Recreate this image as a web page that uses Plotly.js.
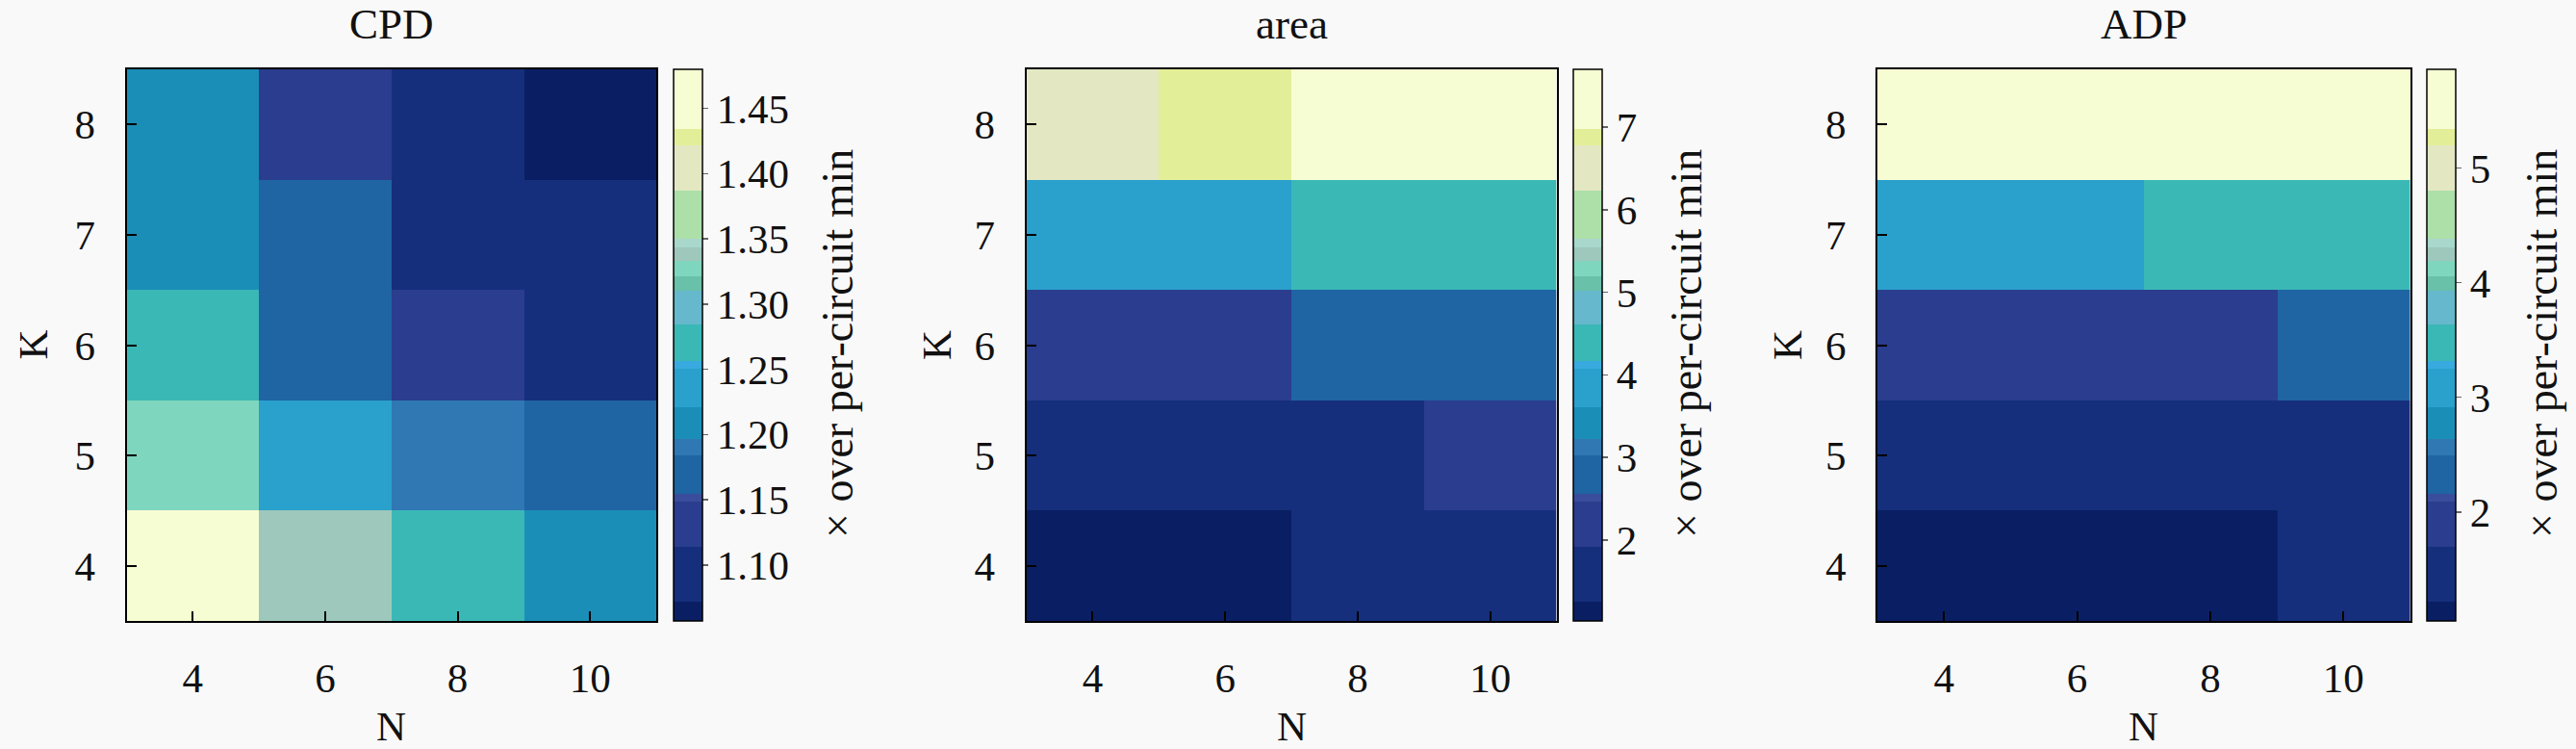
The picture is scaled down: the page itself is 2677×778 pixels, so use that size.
<!DOCTYPE html>
<html>
<head>
<meta charset="utf-8">
<script src="https://cdn.plot.ly/plotly-3.0.1.min.js"></script>
<style>html,body{margin:0;padding:0;background:#f9f9f9;}</style>
</head>
<body>
<div id="chart" style="width:2677px;height:778px;"></div>
<script>
// ---- data ----
const N = [4, 6, 8, 10];
const K = [4, 5, 6, 7, 8];
const panelTitles = ["CPD", "area", "ADP"];
// rows are K = 4..8, columns N = 4..10
const cpd = [
  [1.480, 1.338, 1.270, 1.207],
  [1.327, 1.235, 1.190, 1.165],
  [1.271, 1.170, 1.128, 1.100],
  [1.207, 1.168, 1.095, 1.090],
  [1.209, 1.131, 1.093, 1.057]
];
const area = [
  [1.02, 1.08, 1.55, 1.55],
  [1.57, 1.57, 1.57, 2.15],
  [2.17, 2.17, 2.78, 2.75],
  [3.80, 3.80, 4.35, 4.35],
  [6.49, 6.88, 7.70, 7.65]
];
const adp = [
  [1.05, 1.06, 1.08, 1.45],
  [1.46, 1.46, 1.46, 1.46],
  [1.89, 1.89, 1.89, 2.32],
  [3.07, 3.07, 3.46, 3.46],
  [5.80, 5.83, 5.86, 5.85]
];
const cbTitle = "× over per-circuit min";

// ---- style ----
const W = 2677, H = 778;
const bandStops = [0,0.035,0.134,0.216,0.230,0.301,0.329,0.387,0.457,0.471,0.538,0.598,0.624,0.652,0.678,0.692,0.780,0.863,0.891,1];
const bandColors = ["#0a1f63","#162f7c","#2a3d8e","#3a4d9c","#1f64a3","#2f78b4","#1b8eb8","#2aa0cc","#38aadf","#3ab8b6",
                    "#66b8cc","#68c1a8","#7fd6be","#9ec8bb","#a8d8cc","#ade0a8","#e3e8c2","#e3ee98","#f7fdd2"];
const colorscale = [];
for (let i = 0; i < bandColors.length; i++) {
  colorscale.push([bandStops[i], bandColors[i]]);
  colorscale.push([bandStops[i+1], bandColors[i]]);
}
const FONT = "Liberation Serif";
const FS = 43;
const plotTop = 72, plotBot = 645;
const panels = [
  {x0: 131.5, x1: 682, cb: 700, klab: 34, cbt: 870, dtick: 0.05, fmt: ".2f"},
  {x0: 1066.5, x1: 1617.6, cb: 1635, klab: 973.5, cbt: 1752, dtick: 1, fmt: "d"},
  {x0: 1951, x1: 2504.5, cb: 2521.7, klab: 1857.5, cbt: 2641, dtick: 1, fmt: "d"}
];
const datasets = [cpd, area, adp];

const traces = [];
const layout = {
  width: W, height: H,
  margin: {l: 0, r: 0, t: 0, b: 0},
  paper_bgcolor: "#f9f9f9", plot_bgcolor: "#f9f9f9",
  font: {family: FONT, size: FS, color: "#111"},
  showlegend: false,
  annotations: []
};
const ydom = [1 - plotBot / H, 1 - plotTop / H];

panels.forEach((p, i) => {
  const s = i === 0 ? "" : String(i + 1);
  traces.push({
    type: "heatmap",
    x: N, y: K, z: datasets[i],
    xaxis: "x" + s, yaxis: "y" + s,
    colorscale: colorscale,
    zsmooth: false,
    hoverinfo: "skip",
    colorbar: {
      x: p.cb / W, xanchor: "left", xpad: 0, ypad: 0,
      y: ydom[0], yanchor: "bottom",
      len: ydom[1] - ydom[0], lenmode: "fraction",
      thickness: 30, thicknessmode: "pixels",
      outlinecolor: "#000", outlinewidth: 1.5,
      ticks: "outside", ticklen: 6, tickwidth: 1.5, tickcolor: "#666",
      dtick: p.dtick, tick0: 0, tickformat: p.fmt,
      tickfont: {family: FONT, size: FS, color: "#111"}
    }
  });
  const xa = {
    domain: [p.x0 / W, p.x1 / W], range: [3, 11], anchor: "y" + s,
    tickvals: N, ticktext: N.map(String),
    ticks: "inside", ticklen: 10, tickwidth: 2, tickcolor: "#000",
    showline: true, mirror: true, linecolor: "#000", linewidth: 2,
    showgrid: false, zeroline: false, ticklabelstandoff: 20,
    tickfont: {family: FONT, size: FS, color: "#111"}
  };
  const ya = {
    domain: ydom, range: [3.5, 8.5], anchor: "x" + s,
    tickvals: K, ticktext: K.map(String),
    ticks: "inside", ticklen: 10, tickwidth: 2, tickcolor: "#000",
    showline: true, mirror: true, linecolor: "#000", linewidth: 2,
    showgrid: false, zeroline: false, ticklabelstandoff: 22,
    tickfont: {family: FONT, size: FS, color: "#111"}
  };
  layout["xaxis" + s] = xa;
  layout["yaxis" + s] = ya;
  const cx = (p.x0 + p.x1) / 2 / W;
  layout.annotations.push(
    {text: panelTitles[i], x: cx, y: 1 - 25 / H, xref: "paper", yref: "paper", xanchor: "center", yanchor: "middle", showarrow: false, font: {family: FONT, size: FS + 2, color: "#111"}},
    {text: "N", x: cx, y: 1 - 754 / H, xref: "paper", yref: "paper", xanchor: "center", yanchor: "middle", showarrow: false, font: {family: FONT, size: FS, color: "#111"}},
    {text: "K", x: p.klab / W, y: (ydom[0] + ydom[1]) / 2, xref: "paper", yref: "paper", xanchor: "center", yanchor: "middle", textangle: -90, showarrow: false, font: {family: FONT, size: FS, color: "#111"}},
    {text: cbTitle, x: p.cbt / W, y: 1 - 357 / H, xref: "paper", yref: "paper", xanchor: "center", yanchor: "middle", textangle: -90, showarrow: false, font: {family: FONT, size: FS + 3, color: "#111"}}
  );
});

Plotly.newPlot("chart", traces, layout, {staticPlot: true, displayModeBar: false});
</script>
</body>
</html>
